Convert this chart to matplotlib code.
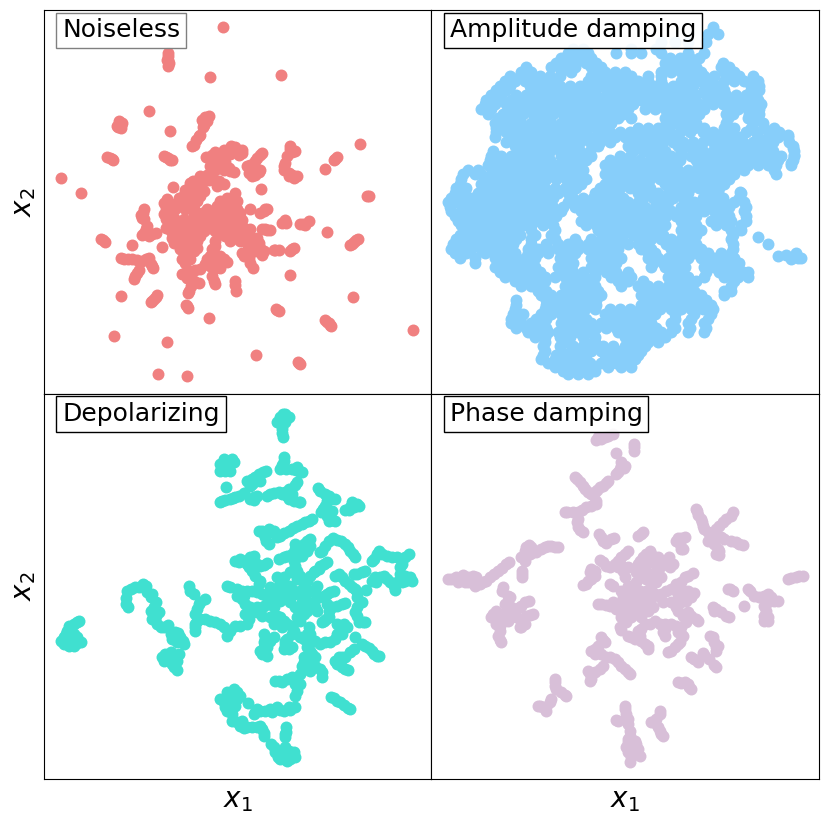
import matplotlib
matplotlib.use("Agg")
import matplotlib.pyplot as plt
from matplotlib.offsetbox import AnchoredText

W, H = 828, 823
titles = ["Noiseless", "Amplitude damping", "Depolarizing", "Phase damping"]
colors = ["lightcoral", "lightskyblue", "turquoise", "thistle"]
edge_colors = ["0.5", "black", "black", "black"]

noiseless = [(538,52),(371,138),(372,150),(373,168),(369,150),(499,202),(713,197),(316,304),(485,322),(481,345),(228,342),(222,352),(232,345),(379,365),(465,380),(450,405),(949,404),(198,445),(208,452),(365,442),(378,450),(875,447),(843,477),(52,505),(110,550),(971,558),(652,538),(177,693),(265,706),(355,713),(850,667),(938,693),(925,703),(739,796),(232,859),(928,862),(335,862),(325,875),(430,891),(496,925),(701,901),(850,937),(858,947),(1108,964),(211,981),(370,1000),(637,1039),(766,1061),(343,1095),(430,1102),
(563,408),(595,420),(585,435),(560,432),(515,428),(535,435),(487,441),(520,455),(530,470),(555,475),(572,488),(515,480),(490,495),(480,515),(510,510),(540,522),(520,530),(650,435),(635,455),(620,465),(625,480),(645,488),(635,497),(738,418),(745,428),(725,460),(722,480),(745,495),(750,505),
(388,532),(447,515),(435,535),(420,555),(450,550),(480,545),(370,568),(410,575),(440,575),(365,595),(395,600),(425,600),(450,600),(365,630),(390,625),(420,630),(450,630),(475,610),(490,600),(510,610),(530,575),(550,565),(575,550),(580,575),(555,590),(530,605),(580,600),(560,620),(530,630),(510,640),(490,640),(365,655),(395,655),(425,655),(460,655),(480,665),(515,665),(540,650),(570,640),(595,633),(620,600),(400,685),(430,685),(390,700),(420,710),(445,690),(450,725),(430,740),(415,750),(460,715),(545,680),(570,685),(600,680),(620,660),(640,685),(610,700),(630,710),(650,715),(655,737),(595,732),(615,745),(627,775),(515,710),(510,730),(530,740),(550,757),(490,750),(500,770),(520,765),(470,780),(440,785),(415,795),(440,810),(465,820),(437,845),(510,815),(575,815),(576,845),(660,605),(670,598),(650,612),(720,637),(727,640),(770,645),(795,635),(785,648),(655,660),(680,662),(695,722),(705,723),(745,720),(740,725),
(297,610),(295,625),(305,660),(295,678),(325,675),(240,748),(265,750),(295,755),(315,745),(320,765),(328,775),(280,790),(270,808),
(372,130),(375,160),(495,320),(475,330),(490,335),(478,352),(225,335),(235,340),(220,350),(230,355),(458,392),(445,410),(470,375),(190,442),(203,448),(372,446),(385,450),(360,440),(870,452),(880,442),(975,560),(172,688),(182,698),(932,698),(943,688),(920,707),(330,868),(320,878),(338,858),(428,888),(434,895),(698,898),(705,905),(855,942),(845,932),(862,950),(763,1058),(770,1064),
(575,425),(595,430),(575,412),(540,420),(505,435),(505,450),(525,445),(545,458),(560,485),(540,480),(500,470),(505,490),(495,510),(525,515),(470,500),(470,525),(640,445),(655,430),(610,470),(630,470),(650,480),(615,490),(625,500),(740,410),(755,425),(730,440),(720,470),(735,490),(760,498),(735,500),
(440,520),(455,525),(425,540),(405,565),(395,585),(380,585),(360,580),(375,610),(410,590),(435,590),(460,575),(470,560),(465,535),(360,615),(375,640),(405,640),(435,645),(450,615),(470,630),(490,620),(505,625),(520,590),(540,590),(560,575),(540,610),(570,590),(590,610),(575,625),(545,640),(520,650),(500,655),(380,665),(410,670),(440,670),(470,680),(385,685),(405,700),(435,700),(460,695),(435,725),(455,705),(425,760),(440,750),(410,720),
(525,675),(555,665),(580,660),(600,655),(610,670),(560,695),(590,695),(625,685),(645,700),(635,725),(660,725),(610,725),(600,740),(620,760),(515,695),(505,720),(520,750),(540,750),(500,740),(485,765),(510,780),(530,775),(455,782),(425,790),(430,805),(450,815),(442,830),(432,850),(505,800),(513,825),(575,828),(665,600),(725,632),(715,640),(778,645),(665,660),(670,662),(690,722),(750,715),
(300,600),(292,618),(300,630),(310,650),(300,670),(315,680),(335,670),(253,750),(280,752),(305,750),(325,770),(272,800),(285,782),(232,745)]

amplitude_rows = {
50:[845],
72:[830,860],
95:[825,690,730,770],
116:[425,455,600,675],
130:[410,440,470,555,600,630,690,770,820],
144:[390,420,450,480,715,745,775,805],
158:[375,405,435,465,495,700,730,760,790,875],
172:[285,360,390,430,480,510,705,735,765,795,870,895],
186:[300,270,390,420,490,520,550,580,690,720,750,780,810,880,910],
200:[235,265,295,325,355,385,480,510,540,570,600,650,690,760,790,820,850,895,925,965],
214:[220,250,280,310,340,370,470,500,530,560,590,620,650,690,750,780,810,840,880,910,940,980],
228:[205,235,295,325,355,385,415,445,475,505,545,575,605,635,665,695,725,755,785,835,865,960,985],
242:[195,225,300,330,360,390,420,450,480,530,560,590,620,650,680,710,740,770,820,850,880,960,985],
256:[180,210,255,285,315,345,375,405,435,465,495,525,555,585,615,645,675,705,735,765,795,825,855,885,915,945,975],
270:[165,195,240,270,300,330,360,390,420,450,480,510,540,570,600,630,660,690,720,750,780,830,860,890,920,950,980],
284:[160,190,225,245,275,305,335,365,395,425,455,485,515,545,575,605,655,685,715,745,775,805,845,875,905,935,965,990],
298:[150,180,230,260,290,320,350,380,410,440,470,500,530,560,590,640,670,700,730,760,790,820,890,920,950,985],
312:[170,215,245,275,305,335,365,395,425,455,485,515,545,575,715,745,775,805,885,905,955,985],
326:[200,230,260,320,350,410,440,470,500,530,560,600,700,730,760,790,890,950,980],
340:[190,215,245,270,300,330,360,390,420,450,480,510,540,705,735,765,795,885,965,995],
354:[195,225,255,285,315,345,375,405,435,465,495,525,620,650,680,710,760,790,820,880,910,960,1000,1030],
368:[195,225,255,285,315,345,375,405,435,465,505,535,565,595,625,655,685,715,745,775,815,845,875,905,945,975,1015,1045],
382:[190,240,270,300,330,360,390,420,450,490,520,550,580,610,640,670,700,730,830,860,890,930,980,1010,1040,1070],
396:[225,265,295,325,355,385,415,445,475,505,535,605,635,665,695,725,755,785,815,845,875,905,935,965,995,1025,1075],
410:[250,280,310,340,370,400,430,500,590,620,650,680,740,770,800,860,890,920,950,980,1010,1085],
424:[185,265,295,325,355,385,415,445,475,605,635,670,700,750,785,815,845,875,905,935,965,995,1025,1090],
438:[180,210,240,270,300,330,390,420,450,480,565,595,660,690,720,750,780,810,840,870,900,930,960,990,1020,1050,1090],
452:[175,205,235,265,295,325,355,405,435,465,535,565,595,625,655,685,715,745,795,825,855,885,915,945,975,1005,1040,1085],
466:[170,200,230,260,290,320,350,380,410,440,520,550,580,610,640,670,700,730,800,830,860,890,920,950,980,1010,1035,1080],
480:[110,140,185,215,245,275,305,335,365,395,425,455,530,560,590,620,650,680,710,740,770,815,845,875,905,940,1030],
494:[95,130,150,180,210,240,270,300,330,360,390,420,450,520,550,580,610,640,670,700,730,760,790,820,850,880,910,1035],
508:[90,165,195,225,255,285,315,345,375,405,435,465,535,565,595,625,655,685,715,745,775,805,835,865,895],
522:[85,150,180,210,240,270,300,330,420,450,520,550,580,610,640,700,730,760,790,820,850,880],
536:[75,105,160,190,220,250,280,310,340,370,400,435,505,535,565,595,625,655,715,745,775,805,835,865],
550:[70,100,140,170,200,230,260,290,320,350,380,410,490,520,550,620,650,680,710,740,770,830,860,930],
564:[60,85,125,155,185,215,245,275,305,335,365,425,455,485,515,545,575,635,665,695,725,755,815,845,875,925],
578:[50,80,110,140,170,200,230,260,290,320,350,410,440,470,500,530,560,590,620,680,710,760,790,820,850,880,910,940],
592:[55,95,125,155,185,215,245,275,305,335,365,395,430,460,490,520,550,580,610,640,670,700,750,775,805,835,865,895,945],
606:[60,90,120,150,180,210,240,270,300,330,360,390,450,480,510,540,570,600,630,660,690,720,750,780,820,850,880,940],
620:[70,105,135,165,195,225,255,285,315,345,375,465,495,525,555,585,615,645,675,705,735,765,795,865,895,945],
634:[80,110,140,170,200,230,260,290,320,350,450,480,510,540,570,600,630,660,690,750,780,840,870,900,945],
648:[90,125,155,185,215,245,275,300,335,365,465,495,525,555,585,615,645,675,700,765,795,855,885,930],
662:[100,130,160,190,220,250,300,370,500,530,560,590,620,650,680,750,780,810,900,930],
676:[85,115,145,175,205,235,265,310,360,515,545,575,605,635,665,695,765,795,905],
690:[75,105,135,165,195,225,255,300,370,430,480,510,540,570,630,660,690,720,750,780,900],
704:[65,95,125,155,185,215,245,300,345,380,410,440,470,500,530,560,590,620,650,705,735,765,795,905],
718:[60,90,120,150,180,210,240,290,320,350,380,410,440,470,500,530,560,630,660,720,750,780,810,905],
732:[70,105,160,190,220,250,290,320,350,400,430,490,520,550,650,670,730,760,790,830,870,900],
746:[85,130,190,220,250,280,310,385,415,480,510,540,570,650,680,710,740,770,810,850,880,910],
760:[130,200,235,265,295,395,425,495,525,555,665,695,725,755,825,865,900,925],
774:[190,220,250,280,310,380,420,480,510,540,660,700,730,760,820,850,880,920],
788:[205,235,265,295,325,395,425,455,490,525,555,590,720,750,825,865,900,935,950],
802:[220,250,280,310,340,370,400,430,460,490,540,570,600,710,740,770,820,880,920,950],
816:[250,280,310,340,410,440,475,560,590,635,725,755,795,910],
830:[270,300,330,400,430,460,490,570,620,650,680,710,740,770,900],
844:[320,345,405,435,465,500,640,670,700,730,760,790,880,900],
858:[330,360,390,420,450,480,510,630,660,690,720,750,780,810,880],
872:[255,345,375,405,435,465,495,645,675,705,735,765,795,825],
886:[255,345,375,405,435,465,495,630,660,690,720,750,780,810,840],
900:[250,340,370,400,430,460,490,535,565,595,625,655,685,720,750,780,815,845],
914:[245,275,330,360,390,420,450,520,550,580,610,640,670,730,790,840],
928:[240,265,315,345,400,430,465,535,565,595,625,655,730,780,830],
942:[240,270,300,330,390,420,450,480,510,540,570,600,630,660,720,770,820],
956:[255,285,315,345,400,435,465,495,525,555,585,615,645,675,730,775,825],
970:[290,320,350,380,410,440,470,560,600,630,660,690,720,770,820],
984:[310,340,385,415,455,490,580,610,640,670,700],
998:[340,400,460,490,590,620,650,680],
1012:[335,385,425,455,485,515,545,580,610,640],
1026:[340,390,420,450,480,510,540,570,600,630],
1038:[335,375,405,435,465,525,560,590,620],
1050:[330,370,400,430,460,520,550,580,610],
1062:[350,385,415,445,475,510,555,585],
1075:[370,400,430,460,490,530,570,600],
1085:[395,425,455,490],
1095:[410,440,470],
}
amplitude_extra = [(980,682),(1012,703),(1040,740),(1065,738),(1080,750),(1100,745),(1110,745),(1095,730),(928,547),(1085,415),(1090,435),(1080,460),(1070,375)]

depolarizing = [(725,60),(710,70),(700,85),(725,85),(715,105),(718,130),(735,70),
(540,195),(565,195),(530,210),(555,215),(530,232),(560,230),(545,205),
(720,200),(710,225),(745,225),(770,233),(760,220),(668,232),(645,240),(625,255),(650,260),(620,275),(548,280),(536,322),(560,315),(575,310),(600,298),(620,315),(640,305),(680,300),(705,293),(725,295),(760,265),(735,315),(765,325),(745,300),
(822,283),(845,300),(875,315),(850,320),(838,345),(865,350),(855,380),(875,380),(905,347),(930,340),(940,330),(925,325),
(805,375),(785,385),(760,395),(735,410),(710,425),(655,410),(675,405),(665,430),(675,450),(690,410),
(800,435),(780,450),(755,450),(790,470),(765,475),(745,480),(720,490),(705,495),(835,470),(855,440),(880,438),(905,450),(920,470),(935,490),(840,510),(825,525),(810,535),
(590,495),(610,510),(630,485),(650,515),(670,508),(585,505),(625,530),(650,560),(755,515),(740,535),(700,550),(770,545),(790,560),(720,570),(690,590),(745,585),(770,590),(800,590),(820,575),(885,540),(905,560),(925,580),(870,590),(850,600),(825,610),
(550,575),(580,585),(610,590),(640,595),(670,610),(700,605),(725,610),(580,605),(605,630),(640,640),(680,630),
(755,640),(790,650),(810,625),(775,625),(820,650),(760,670),(700,665),(720,680),(745,695),(690,690),(655,665),(625,650),(605,660),(610,690),(575,695),(550,725),(530,690),(500,680),(470,675),(455,660),(465,630),(485,615),(450,600),(435,575),(453,710),(850,630),(895,630),(865,640),(855,670),(840,680),(940,610),(940,640),(940,665),(958,683),(890,695),(910,700),(880,720),(935,730),(860,745),(830,750),(800,720),(780,735),(745,720),(665,735),(680,740),(660,760),(670,785),(650,770),(725,750),(735,765),(725,740),
(800,770),(815,790),(780,790),(775,815),(800,830),(830,825),(835,850),(770,840),(745,850),(705,860),(770,870),(755,905),
(965,757),(985,770),(1000,785),(930,765),(905,790),(885,790),(880,810),(913,828),
(870,912),(890,925),(912,943),
(1005,470),(990,495),(1030,485),(1060,490),(1095,480),(1075,510),(1070,540),(1100,550),(1085,562),(1055,588),(1040,565),(1020,545),(995,550),(997,565),(968,587),(965,530),(940,540),
(260,585),(285,578),(305,575),(245,612),(252,640),(320,610),(335,625),(320,650),(345,655),(325,675),(350,700),(373,693),(380,720),(402,717),(400,745),(418,740),
(370,785),(360,800),(385,810),(400,828),(405,780),(380,775),
(100,683),(75,695),(65,720),(52,742),(75,755),(100,748),(90,720),(70,740),
(570,885),(550,895),(530,915),(590,905),(560,920),(575,935),(550,950),(612,928),(565,980),(595,980),(600,1003),(625,1000),(650,995),(660,1018),(630,960),(640,945),(665,950),(700,940),(685,955),(720,950),(755,938),(735,940),
(728,1000),(725,1030),(683,1050),(695,1075),(710,1095),(735,1070),(755,1090),(730,1100),(715,1075),
(717,60),(705,80),(715,75),(728,75),(715,95),(716,118),(550,200),(540,220),(570,205),(545,232),(715,212),(728,225),(757,228),(775,235),(722,190),(657,235),(635,248),(637,260),(625,270),(610,260),
(545,318),(585,305),(568,312),(530,325),(630,310),(630,318),(692,297),(670,305),(715,300),(730,305),(750,322),(770,325),(755,272),(735,285),
(830,290),(855,305),(862,315),(845,335),(832,355),(850,365),(865,378),(918,340),(915,348),(945,335),
(795,380),(775,390),(748,402),(722,418),(700,428),(660,420),(668,440),(680,415),(645,410),
(790,442),(770,460),(775,485),(760,490),(755,465),(730,485),(800,455),(845,455),(830,475),(867,432),(892,442),(912,460),(928,480),(850,505),(830,515),(815,530),(800,545),
(575,500),(600,500),(620,490),(640,510),(660,512),(615,520),(635,545),(645,570),(760,530),(750,500),(720,550),(760,555),(780,575),(735,575),(705,575),(680,580),(700,590),(730,595),(755,600),(785,590),(815,595),(840,605),(875,545),(895,550),(915,570),(935,585),(860,595),
(560,580),(595,590),(625,592),(655,600),(685,610),(710,620),(740,625),(595,615),(620,640),(660,635),(690,640),(600,605),
(765,650),(780,660),(800,635),(790,620),(815,640),(770,680),(710,670),(730,690),(715,700),(700,680),(680,670),(640,655),(615,675),(590,695),(560,710),(540,700),(515,685),(485,675),(460,680),(460,645),(470,625),(440,590),(453,690),(455,700),(880,635),(905,628),(855,650),(848,675),(835,685),
(940,595),(955,625),(935,655),(945,685),(965,685),(900,690),(880,690),(895,720),(875,735),(845,745),(815,740),(795,700),(770,730),(790,720),(800,745),(750,710),(660,720),(690,730),(655,780),(662,745),(670,760),(720,765),(745,760),(730,735),
(790,760),(805,780),(790,800),(780,805),(790,815),(815,815),(835,835),(760,850),(755,870),(730,855),(715,865),(695,862),(760,890),
(955,750),(975,762),(992,780),(1005,785),(920,775),(895,790),(875,800),(895,820),(905,825),
(880,920),(900,933),(862,908),(920,945),
(1000,480),(985,500),(1015,480),(1045,488),(1085,490),(1070,520),(1085,545),(1105,560),(1075,565),(1050,575),(1030,555),(1010,550),(985,560),(955,535),(930,540),(1060,565),
(250,590),(272,580),(298,570),(245,630),(310,595),(325,600),(330,640),(335,665),(340,690),(360,700),(385,735),(410,730),(395,715),(420,750),
(375,800),(395,790),(390,820),(362,780),(400,800),(355,790),
(90,690),(70,710),(60,730),(85,735),(100,730),(90,755),(60,750),(110,745),(80,710),(105,680),
(560,900),(580,895),(540,925),(570,905),(580,915),(545,940),(565,960),(580,985),(610,1000),(640,1000),(655,1005),(660,1025),(635,955),(650,950),(680,945),(710,948),(740,948),(590,995),
(728,1015),(725,1020),(690,1060),(703,1088),(720,1095),(745,1085),(750,1075),(725,1060),(740,1095),(700,1070)]

phase = [(520,130),(495,138),(545,120),(608,150),(608,170),(553,176),(570,215),(560,235),(578,222),
(437,255),(455,275),(470,295),(490,295),(505,280),(525,268),
(490,328),(465,340),(440,355),(408,355),(440,375),(440,400),(455,415),
(502,420),(515,440),(548,432),(628,420),
(797,350),(810,375),(815,395),(905,355),(885,375),(865,395),(830,415),(860,425),(880,435),(915,445),(937,453),(830,440),(860,465),(865,483),(740,432),(762,430),(748,465),
(292,452),(280,470),(360,455),(380,460),(340,458),(315,475),(280,500),(272,540),(232,505),(212,522),(188,540),(165,560),(130,575),(125,545),(95,542),(100,565),(60,555),(75,550),
(215,580),(237,610),(292,620),(270,635),(250,650),(295,662),(270,680),(265,700),(230,640),(185,660),(205,670),(230,680),(205,695),(205,738),
(590,470),(570,490),(505,497),(525,515),(550,510),(480,525),(490,545),(455,572),(470,560),(535,570),(575,530),(590,520),
(655,472),(635,490),(620,510),(615,535),(640,520),(680,490),(712,490),(715,520),(690,515),(670,535),(645,555),(615,565),(690,550),(660,575),(625,590),(600,590),(570,590),(585,610),(580,640),(510,630),(535,635),(560,630),(610,630),(640,625),(670,600),(650,650),(620,660),(600,670),(570,670),(685,610),(705,590),(735,570),(760,550),(785,537),(755,590),(790,598),(765,620),(720,625),(740,650),(770,655),(795,675),(765,685),(735,695),(700,690),(670,680),(640,690),(620,710),(570,708),(600,730),(630,740),(650,765),(695,715),(750,720),
(720,770),(740,750),
(1105,545),(1080,553),(898,585),(958,590),(985,610),(1012,600),(1030,620),(1000,635),(1000,665),(1010,680),(940,637),(855,645),(885,665),
(845,730),(855,760),(790,795),(820,782),(848,812),
(750,868),(770,870),(772,880),
(515,738),(490,765),(525,790),(550,795),(570,815),(590,835),(505,825),(475,840),(480,855),
(372,865),(375,885),(400,903),(360,915),(345,940),(325,935),
(580,945),(560,980),(590,975),(595,1010),(590,1045),(615,1050),(615,1075),(590,1075),(595,1105),(685,950),(665,985),(680,1000),(690,1020),
(510,135),(530,125),(500,130),(607,160),(565,225),(570,205),(555,240),(582,215),(430,250),(447,265),(462,285),(480,300),(515,275),(497,288),(530,262),
(480,335),(452,348),(425,355),(400,355),(437,385),(447,408),(495,320),(495,330),
(510,430),(525,448),(538,435),(620,425),(635,415),
(800,362),(795,345),(812,385),(820,405),(900,365),(875,385),(855,405),(845,420),(870,430),(900,442),(925,450),(845,435),(850,450),(865,470),(855,480),(735,440),(750,432),(745,450),(755,465),
(285,460),(300,460),(305,475),(295,480),(350,455),(370,458),(330,465),(270,490),(272,530),(272,550),(225,510),(200,530),(175,550),(145,570),(155,565),(110,550),(110,565),(85,548),(80,565),(50,555),(125,560),(135,550),
(213,590),(230,605),(280,625),(260,642),(240,660),(285,665),(305,660),(255,670),(280,690),(270,700),(195,650),(180,668),(215,660),(240,670),(195,690),(205,710),(200,725),(210,745),(222,630),(240,640),
(580,480),(560,500),(515,505),(535,520),(565,510),(490,530),(475,535),(465,570),(480,555),(545,575),(580,550),(560,520),
(645,480),(660,480),(625,500),(650,500),(665,505),(695,500),(705,505),(725,510),(680,530),(650,540),(630,550),(660,555),(675,565),(645,590),(615,590),(590,575),(575,610),(600,610),(620,610),(590,625),(600,650),(525,632),(545,625),(500,630),(555,645),(570,655),(655,620),(665,640),(635,645),(630,670),(585,685),(695,625),(690,600),(720,585),(750,565),(770,545),(740,600),(770,590),(780,610),(750,625),(735,640),(755,665),(780,665),(800,680),(750,700),(720,690),(685,690),(655,690),(630,705),(625,725),(610,735),(590,725),(640,750),(650,755),(565,700),(700,705),(740,715),(755,725),(700,725),
(710,775),(730,760),(745,745),
(1095,548),(1115,545),(1070,555),(890,585),(905,590),(950,585),(970,605),(1000,605),(1020,610),(1040,620),(1010,625),(1005,650),(1000,680),(1012,670),
(845,640),(870,655),(895,670),(850,650),(838,725),(850,745),(860,755),(855,770),(780,790),(800,805),(815,778),(835,795),(855,820),
(740,865),(760,865),(780,885),
(510,730),(520,745),(500,755),(480,770),(490,780),(510,780),(535,790),(560,805),(580,825),(595,840),(515,815),(490,835),(470,830),(475,860),
(370,855),(372,875),(390,895),(405,905),(355,925),(335,940),(345,950),(320,935),
(580,935),(585,960),(555,978),(590,990),(595,1025),(590,1035),(610,1040),(585,1060),(620,1065),(600,1090),(625,1085),(685,960),(675,975),(660,985),(685,1010),(695,1025)]

amplitude = [(x, y) for y, xs in amplitude_rows.items() for x in xs] + amplitude_extra
panels = [noiseless, amplitude, depolarizing, phase]

fig = plt.figure(figsize=(W / 100, H / 100), dpi=100)
xs_px = [44, 431.5, 819]
ys_px = [10, 394, 779]
for i, (pts, name, col, ec) in enumerate(zip(panels, titles, colors, edge_colors)):
    r, c = divmod(i, 2)
    ax = fig.add_axes([xs_px[c] / W, 1 - ys_px[r + 1] / H,
                       (xs_px[c + 1] - xs_px[c]) / W, (ys_px[r + 1] - ys_px[r]) / H])
    ax.scatter([p[0] for p in pts], [p[1] for p in pts], s=74, color=col, linewidths=0)
    ax.set_xlim(0, 1164)
    ax.set_ylim(1155, 0)
    ax.set_xticks([])
    ax.set_yticks([])
    if r == 1:
        ax.set_xlabel("$x_1$", fontsize=20, labelpad=5)
    if c == 0:
        ax.set_ylabel("$x_2$", fontsize=20, labelpad=4)
    at = AnchoredText(name, loc="upper left", prop=dict(size=18), pad=0.23, borderpad=0.5,
                      bbox_to_anchor=(0, 1 + 10 / 385), bbox_transform=ax.transAxes)
    at.patch.set_facecolor((1, 1, 1, 0.92))
    at.patch.set_edgecolor(ec)
    at.patch.set_linewidth(1.0)
    at.patch.set_boxstyle("square,pad=0")
    ax.add_artist(at)
fig.savefig("out.png", dpi=100)
